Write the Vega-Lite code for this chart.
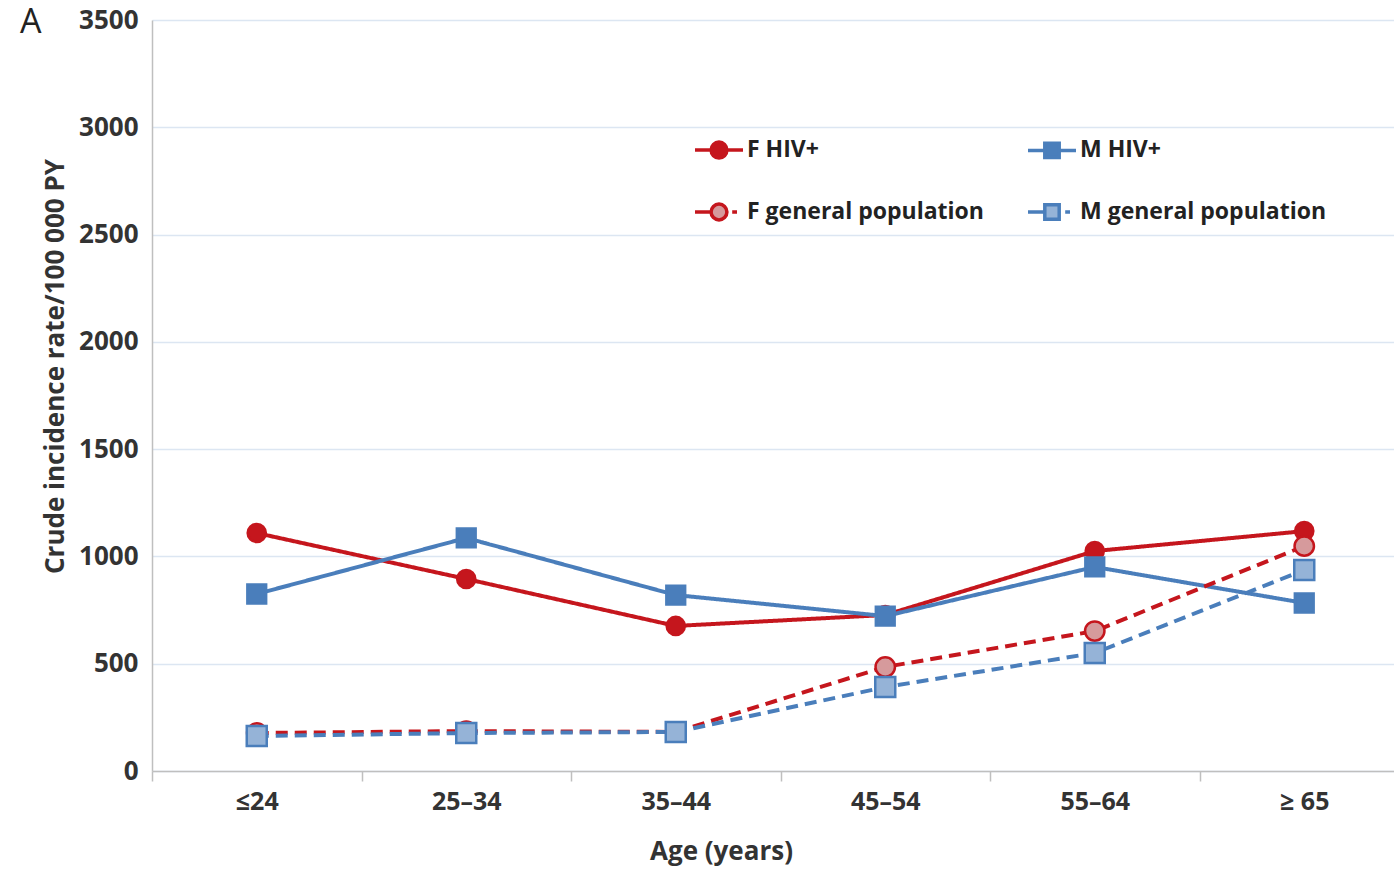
{
  "$schema": "https://vega.github.io/schema/vega-lite/v6.json",
  "width": 1242,
  "height": 751,
  "autosize": {"type": "none"},
  "padding": {"left": 152, "top": 20, "right": 0, "bottom": 98},
  "background": "white",
  "title": {"text": "A", "anchor": "start", "frame": "group", "font": "Open Sans", "fontSize": 34, "fontWeight": "normal", "color": "#222222", "baseline": "alphabetic", "dx": -132, "dy": 64},
  "config": {
    "view": {"stroke": null},
    "font": "Open Sans",
    "axis": {"labelFont": "Open Sans", "titleFont": "Open Sans", "labelFontWeight": "bold", "titleFontWeight": "bold", "labelColor": "#333333", "titleColor": "#333333"}
  },
  "data": {
    "values": [
      {"age": "≤24", "series": "F HIV+", "rate": 1109},
      {"age": "25–34", "series": "F HIV+", "rate": 895},
      {"age": "35–44", "series": "F HIV+", "rate": 676},
      {"age": "45–54", "series": "F HIV+", "rate": 727},
      {"age": "55–64", "series": "F HIV+", "rate": 1025},
      {"age": "≥ 65", "series": "F HIV+", "rate": 1118},
      {"age": "≤24", "series": "M HIV+", "rate": 825},
      {"age": "25–34", "series": "M HIV+", "rate": 1086},
      {"age": "35–44", "series": "M HIV+", "rate": 820},
      {"age": "45–54", "series": "M HIV+", "rate": 722},
      {"age": "55–64", "series": "M HIV+", "rate": 951},
      {"age": "≥ 65", "series": "M HIV+", "rate": 783},
      {"age": "≤24", "series": "F general population", "rate": 177},
      {"age": "25–34", "series": "F general population", "rate": 186},
      {"age": "35–44", "series": "F general population", "rate": 182},
      {"age": "45–54", "series": "F general population", "rate": 485},
      {"age": "55–64", "series": "F general population", "rate": 652},
      {"age": "≥ 65", "series": "F general population", "rate": 1048},
      {"age": "≤24", "series": "M general population", "rate": 163},
      {"age": "25–34", "series": "M general population", "rate": 177},
      {"age": "35–44", "series": "M general population", "rate": 182},
      {"age": "45–54", "series": "M general population", "rate": 391},
      {"age": "55–64", "series": "M general population", "rate": 550},
      {"age": "≥ 65", "series": "M general population", "rate": 937}
    ]
  },
  "encoding": {
    "x": {
      "field": "age", "type": "nominal", "sort": null, "bandPosition": 0.5,
      "scale": {"type": "band", "paddingInner": 0, "paddingOuter": 0, "range": [0, 1257]},
      "axis": {"title": "Age (years)", "labelAngle": 0, "tickBand": "extent", "domainColor": "#BFBFBF", "domainWidth": 1.5, "tickColor": "#BFBFBF", "tickWidth": 1.5, "tickSize": 10, "labelFontSize": 25, "labelPadding": 8, "titleFontSize": 26, "titlePadding": 24, "titleX": 569, "grid": false}
    },
    "y": {
      "field": "rate", "type": "quantitative",
      "scale": {"domain": [0, 3500], "nice": false},
      "axis": {"title": "Crude incidence rate/100 000 PY", "format": "d", "values": [0, 500, 1000, 1500, 2000, 2500, 3000, 3500], "ticks": false, "domainColor": "#BFBFBF", "domainWidth": 1.5, "gridColor": "#DCE6F2", "gridWidth": 1.5, "labelFontSize": 26, "labelPadding": 14, "titleFontSize": 26, "titlePadding": 10, "titleY": 346}
    }
  },
  "layer": [
    {
      "mark": {"type": "line", "strokeWidth": 4},
      "encoding": {
        "stroke": {"field": "series", "type": "nominal", "legend": null,
          "scale": {"domain": ["F HIV+", "M HIV+", "F general population", "M general population"], "range": ["#C5161D", "#4A7EBB", "#C5161D", "#4A7EBB"]}},
        "strokeDash": {"field": "series", "type": "nominal", "legend": null,
          "scale": {"domain": ["F HIV+", "M HIV+", "F general population", "M general population"], "range": [[1, 0], [1, 0], [12, 7], [12, 7]]}}
      }
    },
    {
      "mark": {"type": "point", "filled": true, "opacity": 1, "strokeWidth": 2.5, "strokeOpacity": 1, "fillOpacity": 1},
      "encoding": {
        "shape": {"field": "series", "type": "nominal", "legend": null,
          "scale": {"domain": ["F HIV+", "M HIV+", "F general population", "M general population"], "range": ["circle", "square", "circle", "square"]}},
        "size": {"field": "series", "type": "nominal", "legend": null,
          "scale": {"domain": ["F HIV+", "M HIV+", "F general population", "M general population"], "range": [330, 400, 180, 250]}},
        "fill": {"field": "series", "type": "nominal", "legend": null,
          "scale": {"domain": ["F HIV+", "M HIV+", "F general population", "M general population"], "range": ["#C5161D", "#4A7EBB", "#D69A9C", "#95B3D7"]}},
        "stroke": {"field": "series", "type": "nominal", "legend": null,
          "scale": {"domain": ["F HIV+", "M HIV+", "F general population", "M general population"], "range": ["#C5161D", "#4A7EBB", "#C5161D", "#4A7EBB"]}}
      }
    },
    {
      "mark": {"type": "point", "filled": true, "opacity": 0},
      "encoding": {
        "shape": {"field": "series", "type": "nominal",
          "scale": {"domain": ["F HIV+", "M HIV+", "F general population", "M general population"],
            "range": [
              "M-1,0H-0.33M0.33,0H1M0.33,0A0.33,0.33 0 1,1 -0.33,0A0.33,0.33 0 1,1 0.33,0Z",
              "M-1,0H-0.3M0.3,0H1M-0.3,-0.3H0.3V0.3H-0.3Z",
              "M-1,0H-0.33M0.55,0H0.75M0.33,0A0.33,0.33 0 1,1 -0.33,0A0.33,0.33 0 1,1 0.33,0Z",
              "M-1,0H-0.3M0.55,0H0.75M-0.3,-0.3H0.3V0.3H-0.3Z"
            ]},
          "legend": {"title": null, "orient": "none", "legendX": 541, "legendY": 104, "columns": 2, "direction": "horizontal", "symbolSize": 2304, "symbolStrokeWidth": 3.5, "symbolOpacity": 1, "labelFont": "Open Sans", "labelFontSize": 23, "labelFontWeight": "bold", "labelColor": "#222222", "labelOffset": 2, "rowPadding": 21, "columnPadding": 37, "padding": 0, "labelLimit": 400}},
        "fill": {"field": "series", "type": "nominal",
          "scale": {"domain": ["F HIV+", "M HIV+", "F general population", "M general population"], "range": ["#C5161D", "#4A7EBB", "#D69A9C", "#95B3D7"]}},
        "stroke": {"field": "series", "type": "nominal",
          "scale": {"domain": ["F HIV+", "M HIV+", "F general population", "M general population"], "range": ["#C5161D", "#4A7EBB", "#C5161D", "#4A7EBB"]}}
      }
    }
  ],
  "resolve": {"scale": {"shape": "independent", "fill": "independent", "stroke": "independent", "size": "independent", "strokeDash": "independent"}}
}
